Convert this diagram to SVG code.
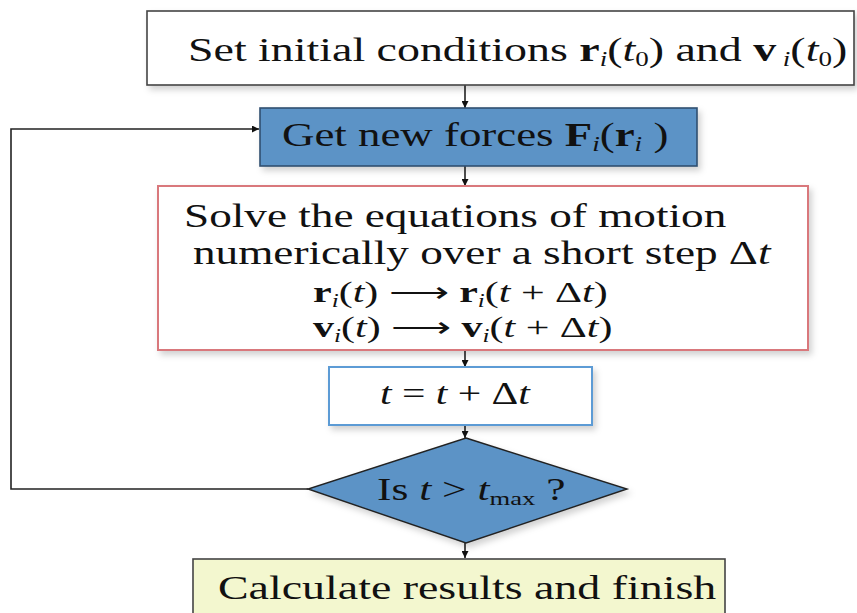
<svg xmlns="http://www.w3.org/2000/svg" width="857" height="613" viewBox="0 0 857 613">
<style>
text{font-family:"Liberation Serif","Times New Roman",serif;fill:#111}
.b{font-weight:bold}
.i{font-style:italic}
.con{fill:none;stroke:#222;stroke-width:1.6}
</style>
<defs>
<marker id="ah" viewBox="0 0 10 10" refX="10" refY="5" markerWidth="7" markerHeight="7" markerUnits="userSpaceOnUse" orient="auto"><path d="M0,0L10,5L0,10z" fill="#111"/></marker>
<filter id="sh" x="-5%" y="-10%" width="115%" height="130%"><feDropShadow dx="3" dy="4" stdDeviation="3" flood-color="#000" flood-opacity="0.18"/></filter>
</defs>
<rect width="857" height="613" fill="#fff"/>
<g id="connectors">
<line class="con" x1="465" y1="85" x2="465" y2="108" marker-end="url(#ah)"/>
<line class="con" x1="465" y1="166" x2="465" y2="186" marker-end="url(#ah)"/>
<line class="con" x1="465" y1="350" x2="465" y2="367" marker-end="url(#ah)"/>
<line class="con" x1="465" y1="425" x2="465" y2="438" marker-end="url(#ah)"/>
<line class="con" x1="465" y1="543" x2="465" y2="558" marker-end="url(#ah)"/>
<polyline class="con" points="308,489 11,489 11,129 259,129" marker-end="url(#ah)"/>
</g>
<g id="init">
<rect x="147" y="11" width="707" height="74" fill="#fff" stroke="#444" stroke-width="1.6" filter="url(#sh)"/>
<text transform="translate(188,61) scale(1.35,1)" font-size="34">Set initial conditions <tspan class="b">r</tspan><tspan class="i" font-size="20" dy="5">i</tspan><tspan dy="-5">(</tspan><tspan class="i">t</tspan><tspan font-size="20" dy="5">0</tspan><tspan dy="-5">)  and </tspan><tspan class="b">v</tspan><tspan class="i" font-size="20" dy="5"> i</tspan><tspan dy="-5">(</tspan><tspan class="i">t</tspan><tspan font-size="20" dy="5">0</tspan><tspan dy="-5">)</tspan></text>
</g>
<g id="forces">
<rect x="260" y="108" width="437" height="58" fill="#5b93c6" stroke="#2f4f70" stroke-width="1.6" filter="url(#sh)"/>
<text transform="translate(282,146) scale(1.36,1)" font-size="33">Get new forces <tspan class="b">F</tspan><tspan class="i" font-size="20" dy="5">i</tspan><tspan dy="-5">(</tspan><tspan class="b">r</tspan><tspan class="i" font-size="20" dy="5">i</tspan><tspan dy="-5"> )</tspan></text>
</g>
<g id="solve">
<rect x="158" y="186" width="650" height="164" fill="#fff" stroke="#d9787b" stroke-width="2" filter="url(#sh)"/>
<text transform="translate(184,227) scale(1.37,1)" font-size="33">Solve the equations of motion</text>
<text transform="translate(193,264) scale(1.37,1)" font-size="33">numerically over a short step Δ<tspan class="i">t</tspan></text>
<text transform="translate(313,302) scale(1.4,1)" font-size="30"><tspan class="b">r</tspan><tspan class="i" font-size="18" dy="5">i</tspan><tspan dy="-5">(</tspan><tspan class="i">t</tspan>) ⟶ <tspan class="b">r</tspan><tspan class="i" font-size="18" dy="5">i</tspan><tspan dy="-5">(</tspan><tspan class="i">t</tspan> + Δ<tspan class="i">t</tspan>)</text>
<text transform="translate(313,337) scale(1.4,1)" font-size="30"><tspan class="b">v</tspan><tspan class="i" font-size="18" dy="5">i</tspan><tspan dy="-5">(</tspan><tspan class="i">t</tspan>) ⟶ <tspan class="b">v</tspan><tspan class="i" font-size="18" dy="5">i</tspan><tspan dy="-5">(</tspan><tspan class="i">t</tspan> + Δ<tspan class="i">t</tspan>)</text>
</g>
<g id="step">
<rect x="329" y="367" width="263" height="58" fill="#fff" stroke="#5b9bd5" stroke-width="2" filter="url(#sh)"/>
<text transform="translate(380,404) scale(1.34,1)" font-size="31"><tspan class="i">t</tspan> = <tspan class="i">t</tspan> + Δ<tspan class="i">t</tspan></text>
</g>
<g id="check">
<polygon points="466,438 627,489 466,543 308,489" fill="#5b93c6" stroke="#222" stroke-width="1.4" filter="url(#sh)"/>
<text transform="translate(377,500) scale(1.4,1)" font-size="31">Is  <tspan class="i">t</tspan> &gt; <tspan class="i">t</tspan><tspan font-size="19" dy="5">max</tspan><tspan dy="-5"> ?</tspan></text>
</g>
<g id="finish">
<rect x="193" y="559" width="532" height="60" fill="#f3f7cf" stroke="#444" stroke-width="1.6"/>
<text transform="translate(218,599) scale(1.35,1)" font-size="34">Calculate results and finish</text>
</g>
</svg>
